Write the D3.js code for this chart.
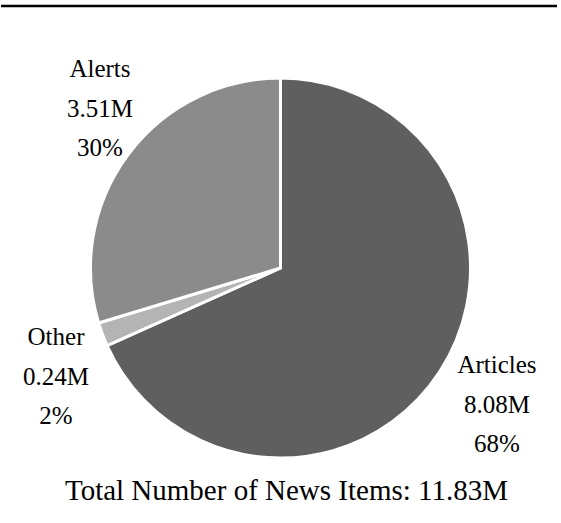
<!DOCTYPE html>
<html>
<head>
<meta charset="utf-8">
<script src="https://cdn.jsdelivr.net/npm/d3@7"></script>
<style>
  html, body { margin: 0; padding: 0; background: #ffffff; }
  svg { display: block; }
  text { font-family: "Liberation Serif", "DejaVu Serif", serif; fill: #000; }
</style>
</head>
<body>
<svg id="chart" width="561" height="523"></svg>
<script>
// News item breakdown (millions), clockwise from 12 o'clock
const categories = ["Articles", "Other", "Alerts"];
const values = [8.08, 0.24, 3.51];
const valueLabels = ["8.08M", "0.24M", "3.51M"];
const percentLabels = ["68%", "2%", "30%"];
const totalLabel = "Total Number of News Items: 11.83M";

const fills = { Articles: "#5f5f5f", Other: "#b4b4b4", Alerts: "#8b8b8b" };

const svg = d3.select("#chart");
const cx = 280.5, cy = 268, R = 190;

// rule across the top
svg.append("line")
  .attr("x1", 1).attr("x2", 557)
  .attr("y1", 6).attr("y2", 6)
  .attr("stroke", "#000").attr("stroke-width", 2.6);

const data = categories.map((c, i) => ({ name: c, value: values[i], vLabel: valueLabels[i], pLabel: percentLabels[i] }));

const pie = d3.pie().sort(null).value(d => d.value);
const arc = d3.arc().innerRadius(0).outerRadius(R);
const arcs = pie(data);

const g = svg.append("g").attr("transform", `translate(${cx},${cy})`);
g.selectAll("path.slice")
  .data(arcs)
  .join("path")
  .attr("class", "slice")
  .attr("d", arc)
  .attr("fill", d => fills[d.data.name])
  .attr("stroke", "#ffffff")
  .attr("stroke-width", 3)
  .attr("stroke-linejoin", "miter");

// label blocks: centre x and first-line baseline for each slice
const labelAnchor = {
  Articles: [497, 373],
  Other: [56, 345],
  Alerts: [100, 77]
};
const lineGap = 39.5;
const fs = 25;

arcs.forEach(a => {
  const [lx, ly] = labelAnchor[a.data.name];
  const t = svg.append("text")
    .attr("text-anchor", "middle")
    .attr("font-size", fs);
  [a.data.name, a.data.vLabel, a.data.pLabel].forEach((s, k) => {
    t.append("tspan")
      .attr("x", lx)
      .attr("y", ly + k * lineGap)
      .text(s);
  });
});

svg.append("text")
  .attr("x", 286.5).attr("y", 500)
  .attr("text-anchor", "middle")
  .attr("font-size", 29)
  .text(totalLabel);
</script>
</body>
</html>
